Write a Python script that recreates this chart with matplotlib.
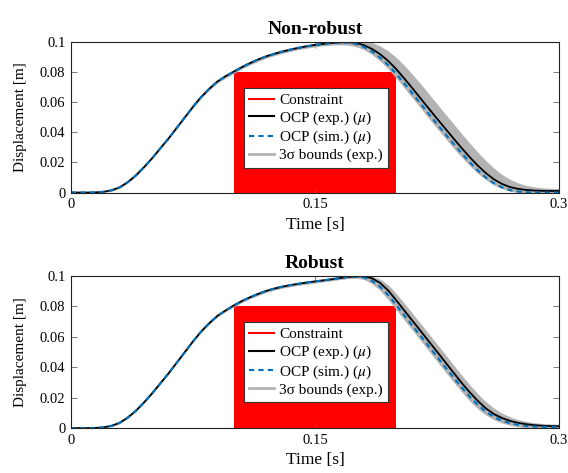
import matplotlib
matplotlib.use("Agg")
import matplotlib.pyplot as plt
from matplotlib.lines import Line2D

plt.rcParams['font.family'] = ['Liberation Serif', 'DejaVu Serif']
plt.rcParams['mathtext.fontset'] = 'stix'

# ---------------- data ----------------
time = [0.000, 0.005, 0.010, 0.015, 0.020, 0.025, 0.030, 0.035, 0.040, 0.045,
        0.050, 0.055, 0.060, 0.065, 0.070, 0.075, 0.080, 0.085, 0.090, 0.095,
        0.100, 0.105, 0.110, 0.115, 0.120, 0.125, 0.130, 0.135, 0.140, 0.145,
        0.150, 0.155, 0.160, 0.165, 0.170, 0.175, 0.180, 0.185, 0.190, 0.195,
        0.200, 0.205, 0.210, 0.215, 0.220, 0.225, 0.230, 0.235, 0.240, 0.245,
        0.250, 0.255, 0.260, 0.265, 0.270, 0.275, 0.280, 0.285, 0.290, 0.295,
        0.300]

# Non-robust
nr_exp = [0.0000, 0.0000, 0.0000, 0.0001, 0.0005, 0.0015, 0.0035, 0.0070, 0.0115, 0.0170,
          0.0230, 0.0295, 0.0360, 0.0430, 0.0500, 0.0570, 0.0635, 0.0690, 0.0738, 0.0773,
          0.0803, 0.0833, 0.0860, 0.0884, 0.0905, 0.0922, 0.0937, 0.0950, 0.0962, 0.0972,
          0.0981, 0.0988, 0.0994, 0.0998, 0.1000, 0.0995, 0.0980, 0.0955, 0.0920, 0.0875,
          0.0820, 0.0757, 0.0692, 0.0625, 0.0558, 0.0492, 0.0427, 0.0362, 0.0298, 0.0237,
          0.0180, 0.0130, 0.0088, 0.0057, 0.0036, 0.0024, 0.0017, 0.0013, 0.0011, 0.0010,
          0.0010]
nr_sim = [0.0000, 0.0000, 0.0000, 0.0001, 0.0005, 0.0015, 0.0035, 0.0070, 0.0115, 0.0170,
          0.0230, 0.0295, 0.0360, 0.0430, 0.0500, 0.0570, 0.0635, 0.0690, 0.0738, 0.0773,
          0.0803, 0.0833, 0.0860, 0.0884, 0.0905, 0.0922, 0.0937, 0.0950, 0.0962, 0.0972,
          0.0981, 0.0988, 0.0994, 0.0997, 0.0997, 0.0988, 0.0968, 0.0938, 0.0897, 0.0847,
          0.0788, 0.0724, 0.0657, 0.0590, 0.0522, 0.0456, 0.0390, 0.0326, 0.0263, 0.0203,
          0.0148, 0.0100, 0.0062, 0.0034, 0.0016, 0.0006, 0.0002, 0.0000, 0.0000, 0.0000,
          0.0000]
nr_upper = [0.0004, 0.0004, 0.0004, 0.0005, 0.0009, 0.0022, 0.0042, 0.0077, 0.0122, 0.0177,
            0.0237, 0.0302, 0.0367, 0.0437, 0.0508, 0.0578, 0.0644, 0.0700, 0.0748, 0.0785,
            0.0815, 0.0845, 0.0872, 0.0896, 0.0917, 0.0934, 0.0950, 0.0963, 0.0975, 0.0985,
            0.0994, 0.1001, 0.1007, 0.1012, 0.1015, 0.1015, 0.1010, 0.0998, 0.0975, 0.0942,
            0.0898, 0.0845, 0.0785, 0.0722, 0.0656, 0.0590, 0.0524, 0.0459, 0.0394, 0.0330,
            0.0270, 0.0213, 0.0163, 0.0120, 0.0087, 0.0063, 0.0047, 0.0037, 0.0031, 0.0028,
            0.0026]
nr_lower = [-0.0004, -0.0004, -0.0004, -0.0003, 0.0001, 0.0008, 0.0028, 0.0063, 0.0108, 0.0163,
            0.0223, 0.0288, 0.0353, 0.0423, 0.0492, 0.0562, 0.0626, 0.0680, 0.0727, 0.0761,
            0.0791, 0.0821, 0.0848, 0.0872, 0.0893, 0.0910, 0.0925, 0.0938, 0.0950, 0.0960,
            0.0968, 0.0975, 0.0980, 0.0982, 0.0980, 0.0970, 0.0950, 0.0918, 0.0875, 0.0822,
            0.0760, 0.0695, 0.0628, 0.0560, 0.0493, 0.0427, 0.0362, 0.0298, 0.0237, 0.0180,
            0.0128, 0.0085, 0.0050, 0.0025, 0.0008, 0.0000, -0.0004, -0.0005, -0.0005, -0.0005,
            -0.0005]

# Robust
r_exp = [0.0000, 0.0000, 0.0000, 0.0001, 0.0005, 0.0015, 0.0035, 0.0070, 0.0115, 0.0170,
         0.0230, 0.0295, 0.0360, 0.0430, 0.0500, 0.0570, 0.0635, 0.0690, 0.0738, 0.0773,
         0.0806, 0.0835, 0.0860, 0.0882, 0.0902, 0.0917, 0.0930, 0.0940, 0.0949, 0.0957,
         0.0964, 0.0971, 0.0978, 0.0986, 0.0993, 0.0998, 0.0998, 0.0985, 0.0955, 0.0905,
         0.0840, 0.0772, 0.0705, 0.0638, 0.0570, 0.0503, 0.0435, 0.0367, 0.0300, 0.0237,
         0.0180, 0.0130, 0.0092, 0.0066, 0.0047, 0.0034, 0.0025, 0.0019, 0.0015, 0.0013,
         0.0012]
r_sim = [0.0000, 0.0000, 0.0000, 0.0001, 0.0005, 0.0015, 0.0035, 0.0070, 0.0115, 0.0170,
         0.0230, 0.0295, 0.0360, 0.0430, 0.0500, 0.0570, 0.0635, 0.0690, 0.0738, 0.0773,
         0.0806, 0.0835, 0.0860, 0.0882, 0.0902, 0.0917, 0.0930, 0.0940, 0.0949, 0.0957,
         0.0964, 0.0971, 0.0978, 0.0986, 0.0993, 0.0995, 0.0990, 0.0968, 0.0930, 0.0875,
         0.0808, 0.0740, 0.0672, 0.0605, 0.0537, 0.0470, 0.0402, 0.0335, 0.0270, 0.0208,
         0.0154, 0.0108, 0.0073, 0.0048, 0.0032, 0.0021, 0.0014, 0.0010, 0.0008, 0.0007,
         0.0007]
r_upper = [0.0004, 0.0004, 0.0004, 0.0005, 0.0009, 0.0021, 0.0041, 0.0076, 0.0121, 0.0176,
           0.0236, 0.0301, 0.0366, 0.0436, 0.0506, 0.0576, 0.0642, 0.0698, 0.0746, 0.0783,
           0.0816, 0.0846, 0.0871, 0.0893, 0.0913, 0.0928, 0.0941, 0.0951, 0.0960, 0.0968,
           0.0975, 0.0982, 0.0989, 0.0997, 0.1004, 0.1008, 0.1008, 0.1000, 0.0980, 0.0942,
           0.0885, 0.0820, 0.0754, 0.0687, 0.0620, 0.0553, 0.0486, 0.0418, 0.0351, 0.0287,
           0.0227, 0.0174, 0.0131, 0.0098, 0.0073, 0.0055, 0.0043, 0.0035, 0.0030, 0.0027,
           0.0025]
r_lower = [-0.0004, -0.0004, -0.0004, -0.0003, 0.0001, 0.0009, 0.0029, 0.0064, 0.0109, 0.0164,
           0.0224, 0.0289, 0.0354, 0.0424, 0.0494, 0.0564, 0.0628, 0.0682, 0.0730, 0.0765,
           0.0796, 0.0825, 0.0850, 0.0872, 0.0892, 0.0907, 0.0920, 0.0930, 0.0939, 0.0947,
           0.0954, 0.0961, 0.0968, 0.0976, 0.0982, 0.0985, 0.0978, 0.0950, 0.0905, 0.0845,
           0.0778, 0.0710, 0.0642, 0.0575, 0.0507, 0.0440, 0.0372, 0.0305, 0.0241, 0.0180,
           0.0128, 0.0086, 0.0055, 0.0033, 0.0018, 0.0008, 0.0002, -0.0002, -0.0003, -0.0003,
           -0.0003]

constraint_t = [0.1, 0.2]
constraint_max = 0.08

titles = ["Non-robust", "Robust"]
xticks = [0, 0.15, 0.3]
xticklabels = ["0", "0.15", "0.3"]
yticks = [0, 0.02, 0.04, 0.06, 0.08, 0.1]
yticklabels = ["0", "0.02", "0.04", "0.06", "0.08", "0.1"]
legend_labels = ["Constraint", r"OCP (exp.) ($\mu$)", r"OCP (sim.) ($\mu$)", "3σ bounds (exp.)"]

panels = [(nr_exp, nr_sim, nr_upper, nr_lower), (r_exp, r_sim, r_upper, r_lower)]

# ---------------- figure ----------------
fig = plt.figure(figsize=(5.68, 4.73), dpi=100)
positions = [[0.125, 0.593, 0.859, 0.318], [0.125, 0.095, 0.859, 0.3215]]

red = '#ff0000'
black = '#000000'
blue = '#0072BD'
grey = '#b3b3b3'
dash = (0, (2.5, 2))

for pos, title, (y_exp, y_sim, y_up, y_lo) in zip(positions, titles, panels):
    ax = fig.add_axes(pos)
    ax.fill_between(constraint_t, 0, constraint_max, color=red, lw=0, zorder=1)
    ax.fill_between(time, y_lo, y_up, color=grey, lw=0, zorder=2)
    ax.plot(time, y_exp, color=black, lw=1.3, zorder=3)
    ax.plot(time, y_sim, color=blue, lw=1.5, ls=dash, zorder=4)

    ax.set_xlim(0, 0.3)
    ax.set_ylim(0, 0.1)
    ax.set_xticks(xticks)
    ax.set_xticklabels(xticklabels)
    ax.set_yticks(yticks)
    ax.set_yticklabels(yticklabels)
    ax.tick_params(direction='in', length=4.5, width=0.6, color='#666666',
                   labelcolor='black', labelsize=10.5,
                   top=True, right=True, pad=4)
    for sp in ax.spines.values():
        sp.set_linewidth(0.8)
        sp.set_color('#222222')
        sp.set_zorder(6)
    ax.set_title(title, fontsize=14, fontweight='bold', pad=6)
    ax.set_xlabel("Time [s]", fontsize=12.5, labelpad=4)
    ax.set_ylabel("Displacement [m]", fontsize=11, labelpad=9)

    handles = [Line2D([], [], color=red, lw=1.5),
               Line2D([], [], color=black, lw=1.5),
               Line2D([], [], color=blue, lw=1.5, ls=dash),
               Line2D([], [], color=grey, lw=2)]
    leg = ax.legend(handles, legend_labels, loc='upper left',
                    bbox_to_anchor=(0.3545, 0.695), borderaxespad=0,
                    fontsize=11, frameon=True, fancybox=False, framealpha=1,
                    edgecolor='#333333', handlelength=1.6, handletextpad=0.35,
                    labelspacing=0.15, borderpad=0.35)
    leg.get_frame().set_linewidth(0.8)
    leg.set_zorder(10)

fig.savefig("out.png", dpi=100)
